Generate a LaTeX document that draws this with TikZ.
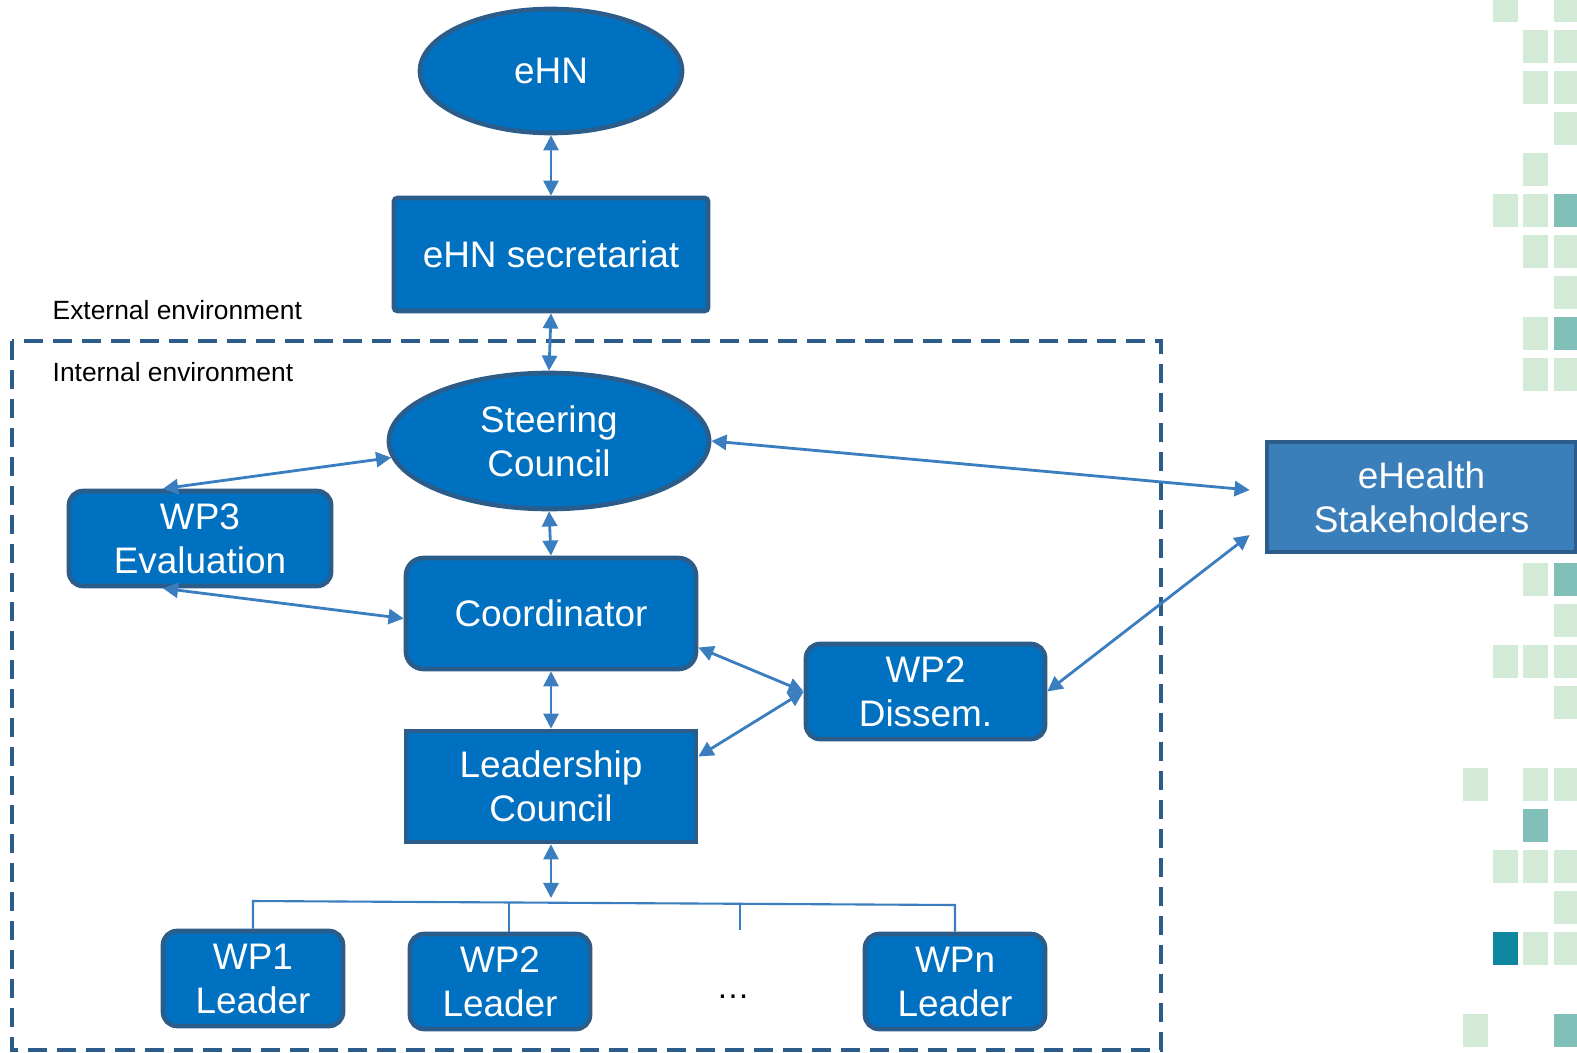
\documentclass[tikz,border=0pt]{standalone}
\usepackage{fontspec}
\setmainfont{Liberation Sans}
\usetikzlibrary{arrows.meta}
\usetikzlibrary{shapes.geometric}
\definecolor{boxblue}{RGB}{0,112,192}
\definecolor{boxedge}{RGB}{44,93,138}
\definecolor{stakeblue}{RGB}{58,126,186}
\definecolor{linkblue}{RGB}{58,126,192}
\definecolor{sqlight}{RGB}{211,235,214}
\definecolor{sqteal}{RGB}{128,192,184}
\definecolor{sqdark}{RGB}{14,134,160}
\tikzset{box/.style={rectangle, draw=boxedge, fill=boxblue, line width=1.3pt, text=white, align=center, inner sep=0pt, font=\fontsize{10.5}{12.5}\selectfont},
  oval/.style={box, ellipse},
  link/.style={<->, >={Triangle[length=4.3pt, width=4.3pt]}, draw=linkblue, line width=0.8pt},
  bus/.style={draw=linkblue, line width=0.6pt},
  env/.style={anchor=west, inner sep=0pt, font=\fontsize{7.5}{9}\selectfont}}

\begin{document}
\begin{tikzpicture}[x=0.01cm, y=-0.01cm]
  \useasboundingbox (0,0) rectangle (1577,1052);

  % side tiles
  \foreach \x/\k/\c in {1493/0/sqlight, 1554/0/sqlight, 1523/1/sqlight, 1554/1/sqlight,
      1523/2/sqlight, 1554/2/sqlight, 1554/3/sqlight, 1523/4/sqlight,
      1493/5/sqlight, 1523/5/sqlight, 1554/5/sqteal, 1523/6/sqlight, 1554/6/sqlight,
      1554/7/sqlight, 1523/8/sqlight, 1554/8/sqteal, 1523/9/sqlight, 1554/9/sqlight,
      1523/14/sqlight, 1554/14/sqteal, 1554/15/sqlight,
      1493/16/sqlight, 1523/16/sqlight, 1554/16/sqlight, 1554/17/sqlight,
      1463/19/sqlight, 1523/19/sqlight, 1554/19/sqlight, 1523/20/sqteal,
      1493/21/sqlight, 1523/21/sqlight, 1554/21/sqlight, 1554/22/sqlight,
      1493/23/sqdark, 1523/23/sqlight, 1554/23/sqlight, 1463/25/sqlight, 1554/25/sqteal}
    \fill[\c] (\x,{-11+41*\k}) rectangle ++(25,33);

  % environment
  \draw[boxedge, line width=1pt, dash pattern=on 0.19cm off 0.10cm] (12,341) rectangle (1161,1050);
  \node (ext) at (52,310) [env] {External environment};
  \node (int) at (52,372) [env] {Internal environment};

  % nodes
  \node (ehn) at (551,71) [oval, minimum width=2.62cm, minimum height=1.24cm] {eHN};
  \node (sec) at (551,254.5) [box, rounded corners=1pt, minimum width=3.14cm, minimum height=1.13cm] {eHN secretariat};
  \node (steer) at (549,441) [oval, minimum width=3.2cm, minimum height=1.36cm] {Steering\\Council};
  \node (wp3) at (200,538.5) [box, rounded corners=4pt, minimum width=2.62cm, minimum height=0.95cm] {WP3\\Evaluation};
  \node (coord) at (551,613.5) [box, rounded corners=5pt, minimum width=2.9cm, minimum height=1.11cm] {Coordinator};
  \node (lead) at (551,786.5) [box, minimum width=2.9cm, minimum height=1.11cm] {Leadership\\Council};
  \node (wp2d) at (925.5,691.5) [box, rounded corners=4pt, minimum width=2.39cm, minimum height=0.95cm] {WP2\\Dissem.};
  \node (stake) at (1421.5,497) [box, fill=stakeblue, minimum width=3.09cm, minimum height=1.1cm] {eHealth\\Stakeholders};
  \node (wp1) at (253,978.5) [box, rounded corners=4pt, minimum width=1.8cm, minimum height=0.95cm] {WP1\\Leader};
  \node (wp2) at (500,981.5) [box, rounded corners=4pt, minimum width=1.8cm, minimum height=0.95cm] {WP2\\Leader};
  \node (wpn) at (955,981.5) [box, rounded corners=4pt, minimum width=1.8cm, minimum height=0.95cm] {WPn\\Leader};
  \node (dots) at (733,997) [font=\fontsize{9.5}{11}\selectfont] {…};

  % links
  \draw[link] (ehn.south) -- (sec.north);
  \draw[link] (sec.south) -- (steer.north);
  \draw[link] (steer.south) -- (coord.north);
  \draw[link] (coord.south) -- (lead.north);
  \draw[link] (steer.186) -- ([xshift=-0.37cm]wp3.north);
  \draw[link] ([xshift=-0.37cm]wp3.south) -- ([yshift=-0.05cm]coord.west);
  \draw[link] ([yshift=-0.34cm]coord.east) -- (wp2d.west);
  \draw[link] ([yshift=0.3cm]lead.east) -- (wp2d.west);
  \draw[link] (steer.east) -- ([xshift=-0.15cm, yshift=0.07cm]stake.west);
  \draw[link] (wp2d.east) -- ([xshift=-0.15cm, yshift=-0.38cm]stake.west);

  % leaders
  \coordinate (busl) at (253,901);
  \coordinate (busr) at (955,905);
  \coordinate (busmid) at (551,898);
  \coordinate (gap) at (740,930);
  \draw[link] (lead.south) -- (busmid);
  \draw[bus] (wp1.north) -- (busl) -- (busr) -- (wpn.north);
  \draw[bus] ([xshift=0.09cm]wp2.north) -- +(0,-30);
  \draw[bus] (gap) -- +(0,-27);

\end{tikzpicture}
\end{document}
